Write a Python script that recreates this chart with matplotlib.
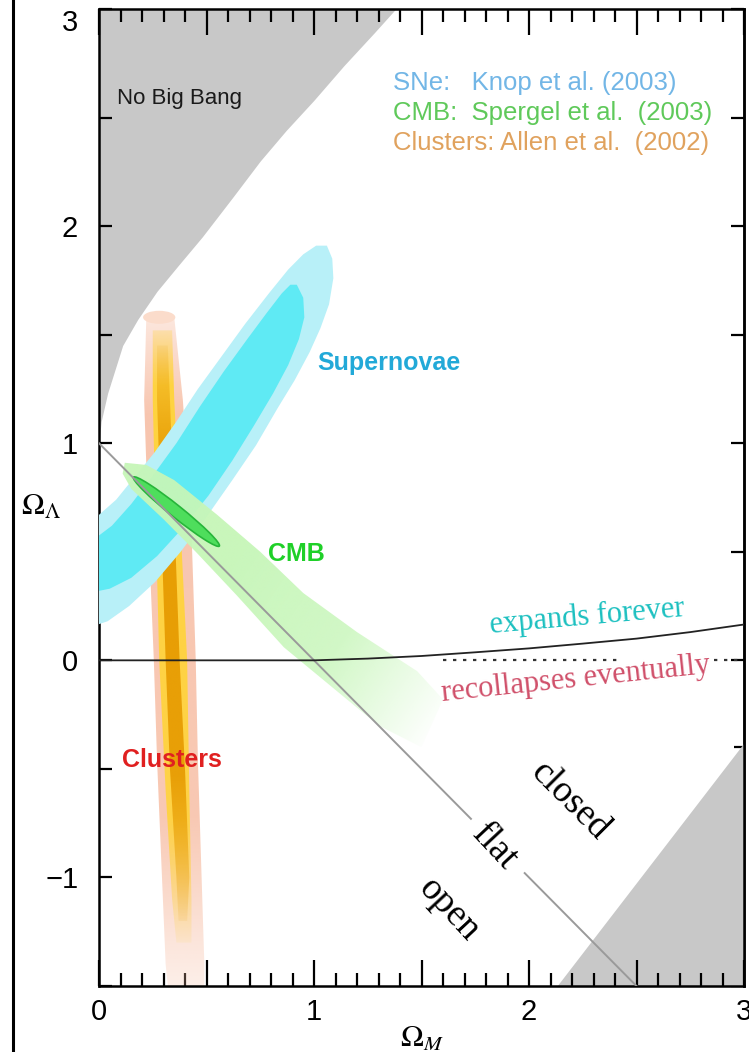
import numpy as np
import matplotlib
matplotlib.use("Agg")
import matplotlib.pyplot as plt
from matplotlib.patches import Polygon, Ellipse
from matplotlib.lines import Line2D
from matplotlib.colors import to_rgb
from matplotlib.ticker import MultipleLocator, FixedLocator, FuncFormatter

plt.rcParams['mathtext.fontset'] = 'stix'
plt.rcParams['font.family'] = ['Liberation Sans', 'DejaVu Sans']

# ---- data ----
# "No Big Bang" boundary (upper left)
nbb_x = [0.0, 0.01, 0.04, 0.11, 0.18, 0.27, 0.37, 0.48, 0.62, 0.75, 0.87,
         1.0, 1.14, 1.28, 1.38]
nbb_y = [1.0, 1.10, 1.23, 1.45, 1.57, 1.70, 1.82, 1.95, 2.13, 2.30, 2.44,
         2.58, 2.74, 2.89, 3.0]
# grey wedge lower right
wedge_x = [2.13, 3.0]
wedge_y = [-1.5, -0.38]

# flat universe line (broken where the label sits)
flat1_x, flat1_y = [0.0, 1.73], [1.0, -0.73]
flat2_x, flat2_y = [1.98, 2.5], [-0.98, -1.5]

# expands forever / recollapses boundary
exp_x = [0.0, 1.0, 1.25, 1.5, 1.75, 2.0, 2.25, 2.5, 2.75, 3.0]
exp_y = [0.0, 0.0, 0.008, 0.02, 0.037, 0.055, 0.077, 0.10, 0.13, 0.165]
dot1_x = [1.60, 2.42]
dot2_x = [2.86, 3.0]

# supernovae contours
sn_outer_x = [1.06, 1.085, 1.09, 1.07, 1.03, 0.98, 0.91, 0.83, 0.73, 0.62,
              0.50, 0.38, 0.26, 0.14, 0.04, -0.05, -0.1, -0.05, 0.0, 0.08,
              0.17, 0.26, 0.36, 0.46, 0.57, 0.68, 0.79, 0.88, 0.95, 1.01]
sn_outer_y = [1.91, 1.85, 1.76, 1.64, 1.53, 1.42, 1.29, 1.16, 0.99, 0.83,
              0.66, 0.50, 0.36, 0.25, 0.18, 0.15, 0.30, 0.62, 0.67, 0.74,
              0.85, 0.96, 1.10, 1.25, 1.40, 1.55, 1.69, 1.80, 1.87, 1.91]
sn_inner_x = [0.92, 0.95, 0.955, 0.93, 0.88, 0.81, 0.72, 0.62, 0.51, 0.39,
              0.27, 0.15, 0.05, -0.05, -0.1, -0.02, 0.06, 0.15, 0.25, 0.36,
              0.47, 0.58, 0.69, 0.78, 0.85, 0.89]
sn_inner_y = [1.73, 1.67, 1.58, 1.48, 1.36, 1.23, 1.08, 0.92, 0.76, 0.61,
              0.48, 0.38, 0.33, 0.31, 0.45, 0.56, 0.62, 0.72, 0.85, 1.00,
              1.17, 1.33, 1.48, 1.60, 1.69, 1.73]

# CMB band and core
cmb_band_x = [0.12, 0.22, 0.35, 0.55, 0.75, 0.95, 1.20, 1.48, 1.60,
              1.50, 1.30, 1.08, 0.86, 0.64, 0.45, 0.30, 0.15, 0.11]
cmb_band_y = [0.91, 0.90, 0.83, 0.67, 0.50, 0.31, 0.13, -0.05, -0.18,
              -0.40, -0.30, -0.12, 0.06, 0.30, 0.50, 0.65, 0.79, 0.86]
cmb_core = dict(center=(0.36, 0.685), length=0.51, width=0.055, angle=-38.5)

# clusters band
cl_outer_x = [0.22, 0.21, 0.23, 0.255, 0.27, 0.31, 0.32,
              0.49, 0.49, 0.46, 0.45, 0.43, 0.39, 0.35]
cl_outer_y = [1.58, 1.20, 0.60, 0.00, -0.46, -1.40, -1.50,
              -1.50, -1.40, -0.46, 0.00, 0.60, 1.20, 1.58]
cl_mid_x = [0.25, 0.25, 0.28, 0.31, 0.34, 0.36, 0.43, 0.43, 0.42, 0.41, 0.35, 0.34]
cl_mid_y = [1.52, 1.20, 0.00, -0.60, -1.10, -1.30, -1.30, -1.10, -0.60, 0.00, 1.20, 1.52]
cl_in_x = [0.27, 0.27, 0.31, 0.33, 0.36, 0.37, 0.41, 0.42, 0.40, 0.375, 0.33, 0.32]
cl_in_y = [1.45, 1.20, 0.00, -0.50, -1.00, -1.20, -1.20, -1.00, -0.50, 0.00, 1.20, 1.45]
cl_cap = dict(center=(0.28, 1.58), width=0.15, height=0.06)

legend_lines = ["SNe:   Knop et al. (2003)",
                "CMB:  Spergel et al.  (2003)",
                "Clusters: Allen et al.  (2002)"]
legend_colors = ["#72b6e6", "#5fc95a", "#e0a25e"]

GREY = "#c8c8c8"

fig = plt.figure(figsize=(7.49, 10.52), dpi=100)
ax = fig.add_axes([99 / 749, 66 / 1052, 645 / 749, 977 / 1052])


def fade_fill(ax, xs, ys, color, p0, p1, t_stops, a_stops, zorder):
    poly = Polygon(np.column_stack([xs, ys]), closed=True,
                   facecolor='none', edgecolor='none')
    ax.add_patch(poly)
    ext = [-0.2, 3.2, -1.7, 3.2]
    gx, gy = np.meshgrid(np.linspace(ext[0], ext[1], 500),
                         np.linspace(ext[2], ext[3], 700))
    d = np.array(p1, float) - np.array(p0, float)
    t = ((gx - p0[0]) * d[0] + (gy - p0[1]) * d[1]) / (d @ d)
    rgba = np.zeros(gx.shape + (4,))
    rgba[..., :3] = to_rgb(color)
    rgba[..., 3] = np.interp(t, t_stops, a_stops)
    im = ax.imshow(rgba, extent=ext, origin='lower', zorder=zorder,
                   interpolation='bilinear', aspect='auto')
    im.set_clip_path(poly)


# grey regions
ax.fill_between(nbb_x, nbb_y, 3.0, color=GREY, lw=0, zorder=1)
ax.fill_between(wedge_x, -1.5, wedge_y, color=GREY, lw=0, zorder=1)

# clusters
fade_fill(ax, cl_outer_x, cl_outer_y, "#f7bfa6", (0, 1.6), (0, -1.5),
          [0, 0.15, 0.75, 1.0], [0.35, 0.9, 0.85, 0.25], 2)
ax.add_patch(Ellipse(cl_cap['center'], cl_cap['width'], cl_cap['height'],
                     facecolor="#fbdccb", edgecolor='none', zorder=2.1))
fade_fill(ax, cl_mid_x, cl_mid_y, "#ffd43a", (0, 1.55), (0, -1.3),
          [0, 0.1, 0.8, 1.0], [0.2, 0.95, 0.9, 0.1], 2.2)
fade_fill(ax, cl_in_x, cl_in_y, "#e69a00", (0, 1.45), (0, -1.2),
          [0, 0.2, 0.75, 1.0], [0.1, 0.95, 0.9, 0.1], 2.3)

# supernovae
ax.fill(sn_outer_x, sn_outer_y, color="#b8f0f8", lw=0, zorder=3)
ax.fill(sn_inner_x, sn_inner_y, color="#5feaf4", lw=0, zorder=3.1)

# CMB
fade_fill(ax, cmb_band_x, cmb_band_y, "#c6f6b8", (0.6, 0.4), (1.6, -0.3),
          [0, 0.5, 1.0], [0.95, 0.8, 0.0], 4)
ax.add_patch(Ellipse(cmb_core['center'], cmb_core['length'], cmb_core['width'],
                     angle=cmb_core['angle'], facecolor="#4ede5c",
                     edgecolor="#27b53a", lw=1.2, zorder=4.2))

# lines
ax.plot(flat1_x, flat1_y, color="#9a9a9a", lw=1.4, zorder=5)
ax.plot(flat2_x, flat2_y, color="#9a9a9a", lw=1.4, zorder=5)
ax.plot(exp_x, exp_y, color="#222222", lw=1.3, zorder=5)
ax.plot(dot1_x, [0, 0], color="#333333", lw=1.6, ls=(0, (1.5, 3)), zorder=5)
ax.plot(dot2_x, [0, 0], color="#333333", lw=1.6, ls=(0, (1.5, 3)), zorder=5)

# labels inside
ax.text(0.085, 2.59, "No Big Bang", fontsize=16, color="#1a1a1a",
        va='center', ha='left', zorder=6)
for i, (txt, col) in enumerate(zip(legend_lines, legend_colors)):
    ax.text(1.367, 2.66 - 0.138 * i, txt, fontsize=18.5, color=col,
            va='center', ha='left', zorder=6)
ax.text(1.35, 1.37, "Supernovae", fontsize=18, fontweight='bold',
        color="#22a9d8", ha='center', va='center', zorder=6)
ax.text(0.92, 0.49, "CMB", fontsize=18, fontweight='bold',
        color="#1fd028", ha='center', va='center', zorder=6)
ax.text(0.34, -0.46, "Clusters", fontsize=18, fontweight='bold',
        color="#e02020", ha='center', va='center', zorder=6)

serif = ['Liberation Serif', 'DejaVu Serif']
ax.text(2.27, 0.20, "expands forever", family=serif, fontsize=22,
        color="#1cc0c0", rotation=5, ha='center', va='center',
        rotation_mode='anchor', zorder=6)
ax.text(2.22, -0.09, "recollapses eventually", family=serif, fontsize=22,
        color="#d0506a", rotation=6, ha='center', va='center',
        rotation_mode='anchor', zorder=6)
ax.text(2.19, -0.65, "closed", family=serif, fontsize=27, color="black",
        rotation=-45, ha='center', va='center', rotation_mode='anchor', zorder=6)
ax.text(1.84, -0.86, "flat", family=serif, fontsize=27, color="black",
        rotation=-47, ha='center', va='center', rotation_mode='anchor', zorder=6)
ax.text(1.63, -1.15, "open", family=serif, fontsize=27, color="black",
        rotation=-47, ha='center', va='center', rotation_mode='anchor', zorder=6)

# axes
ax.set_xlim(0, 3)
ax.set_ylim(-1.5, 3)
for s in ax.spines.values():
    s.set_linewidth(1.8)


def int_label(v, top=None):
    if abs(v - round(v)) > 1e-6 or (top is not None and round(v) == top):
        return ""
    return ("%d" % round(v)).replace("-", "\u2212")


ax.xaxis.set_major_locator(MultipleLocator(0.5))
ax.xaxis.set_minor_locator(MultipleLocator(0.1))
ax.xaxis.set_major_formatter(FuncFormatter(lambda v, p: int_label(v)))
ax.yaxis.set_major_locator(MultipleLocator(0.5))
ax.yaxis.set_major_formatter(FuncFormatter(lambda v, p: int_label(v, top=3)))
ax.tick_params(axis='x', which='both', direction='in', top=True, bottom=True,
               labelsize=21, pad=9, width=1.6)
ax.tick_params(axis='x', which='major', length=19)
ax.tick_params(axis='x', which='minor', length=9.5)
ax.tick_params(axis='y', which='major', direction='in', left=True, right=False,
               labelsize=21, pad=15, width=1.6, length=9.5)
# the top "3" label sits just below the corner, as in the original
ax.text(-0.135, 3.0, "3", fontsize=21, ha='center', va='top', clip_on=False)

# right axis: minor ticks only in the grey wedge
sec = ax.secondary_yaxis('right')
sec.yaxis.set_major_locator(MultipleLocator(0.5))
sec.yaxis.set_minor_locator(FixedLocator([-1.4, -1.3, -1.2, -1.1, -0.9, -0.8,
                                          -0.7, -0.6, -0.4]))
sec.tick_params(which='both', direction='in', labelright=False, width=1.6)
sec.tick_params(which='major', length=9.5)
sec.tick_params(which='minor', length=7)
sec.spines['right'].set_linewidth(1.8)

ax.set_xlabel(r"$\Omega_M$", fontsize=22, labelpad=-2)
ax.set_ylabel(r"$\Omega_\Lambda$", fontsize=22, rotation=0, va='center')
ax.yaxis.set_label_coords(-0.09, 0.49)

# outer frame line at the left edge
fig.add_artist(Line2D([13 / 749, 13 / 749], [0, 1], transform=fig.transFigure,
                      color='black', lw=2.2))

fig.savefig("out.png", dpi=100)
